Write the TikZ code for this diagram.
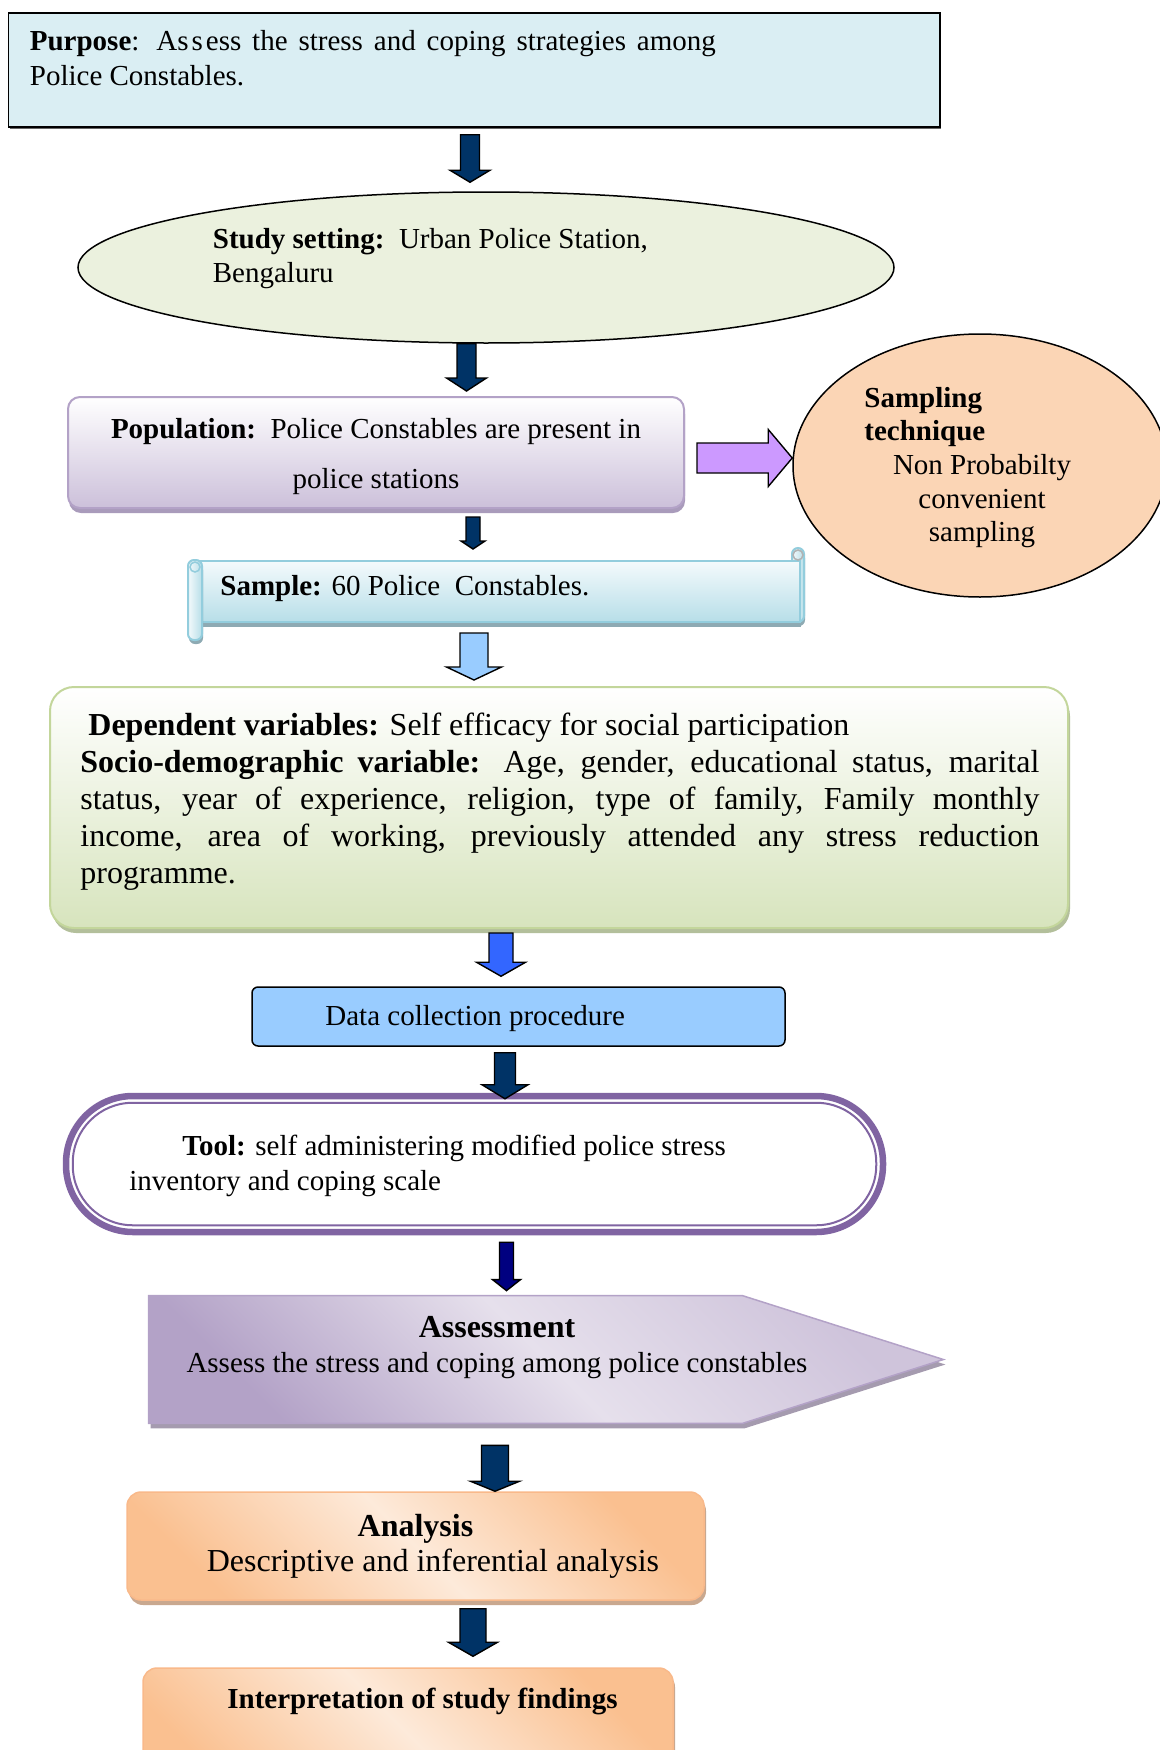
\documentclass[tikz,border=0pt]{standalone}
\usepackage{fontspec}
\setmainfont{Liberation Serif}
\usetikzlibrary{calc,shapes.geometric,shadows}

\definecolor{purposeblue}{HTML}{DAEEF3}
\definecolor{settinggreen}{HTML}{EBF1DE}
\definecolor{popbottom}{HTML}{CCC0DA}
\definecolor{popborder}{HTML}{B3A2C7}
\definecolor{popshadow}{HTML}{A99BBB}
\definecolor{samplingpeach}{HTML}{FBD5B5}
\definecolor{violetarrow}{HTML}{CC99FF}
\definecolor{scrolltop}{HTML}{F4FAFC}
\definecolor{scrollbottom}{HTML}{B7DEE8}
\definecolor{scrollborder}{HTML}{93CDDD}
\definecolor{scrollshadow}{HTML}{8EAAB3}
\definecolor{depbottom}{HTML}{D7E4BD}
\definecolor{depborder}{HTML}{C3D69B}
\definecolor{depshadow}{HTML}{B3BF9B}
\definecolor{datablue}{HTML}{99CCFF}
\definecolor{toolpurple}{HTML}{8064A2}
\definecolor{assesslight}{HTML}{E6E0EC}
\definecolor{assessdark}{HTML}{B3A2C7}
\definecolor{assessshadow}{HTML}{A59BAF}
\definecolor{analight}{HTML}{FDEADA}
\definecolor{anaorange}{HTML}{FAC090}
\definecolor{anaborder}{HTML}{F9B98A}
\definecolor{anashadow}{HTML}{C9A88F}
\definecolor{navyarrow}{HTML}{003366}
\definecolor{deepnavy}{HTML}{000080}
\definecolor{lightarrow}{HTML}{99CCFF}
\definecolor{bluearrow}{HTML}{3366FF}

\tikzset{
  shaftw/.store in=\shaftw, headw/.store in=\headw, headl/.store in=\headl,
  shaftw=5pt, headw=10pt, headl=7pt,
  downarrow/.style={draw=black, line width=0.7pt, fill=#1,
    to path={let \p1=(\tikztostart), \p2=(\tikztotarget) in
      (\x1-\shaftw,\y1) -- (\x1+\shaftw,\y1) -- (\x1+\shaftw,\y2+\headl)
      -- (\x1+\headw,\y2+\headl) -- (\x1,\y2) -- (\x1-\headw,\y2+\headl)
      -- (\x1-\shaftw,\y2+\headl) -- cycle}},
  rightarrow/.style={draw=black, line width=0.7pt, fill=#1,
    to path={let \p1=(\tikztostart), \p2=(\tikztotarget) in
      (\x1,\y1-\shaftw) -- (\x1,\y1+\shaftw) -- (\x2-\headl,\y1+\shaftw)
      -- (\x2-\headl,\y1+\headw) -- (\x2,\y1) -- (\x2-\headl,\y1-\headw)
      -- (\x2-\headl,\y1-\shaftw) -- cycle}},
  txt/.style={inner sep=0pt, font=\fontsize{14.5}{17.5}\selectfont},
  bigtxt/.style={inner sep=0pt, font=\fontsize{16}{18.4}\selectfont},
  purposebox/.style={rectangle, inner sep=0pt, draw=black, line width=0.75pt, fill=purposeblue,
    drop shadow={shadow xshift=0.5pt, shadow yshift=-1pt, fill=black!60, opacity=1}},
  settingoval/.style={ellipse, inner sep=0pt, draw=black, line width=0.75pt, fill=settinggreen},
  samplingoval/.style={ellipse, inner sep=0pt, draw=black, line width=0.75pt, fill=samplingpeach},
  popbox/.style={rectangle, rounded corners=6pt, draw=popborder, line width=1pt,
    top color=white, bottom color=popbottom,
    drop shadow={shadow xshift=0.5pt, shadow yshift=-2.5pt, fill=popshadow, opacity=1}},
  scrollbox/.style={rectangle, inner sep=0pt, draw=scrollborder, line width=1pt,
    top color=scrolltop, bottom color=scrollbottom,
    drop shadow={shadow xshift=0.5pt, shadow yshift=-2.5pt, fill=scrollshadow, opacity=1}},
  scrollroll/.style={draw=scrollborder, line width=1pt, rounded corners=3pt,
    left color=scrolltop, right color=scrollbottom,
    drop shadow={shadow xshift=0.5pt, shadow yshift=-2pt, fill=scrollshadow, opacity=1}},
  depbox/.style={rectangle, inner sep=0pt, rounded corners=12pt, draw=depborder, line width=1pt,
    top color=white, bottom color=depbottom,
    drop shadow={shadow xshift=1pt, shadow yshift=-2.5pt, fill=depshadow, opacity=1}},
  databox/.style={rectangle, inner sep=0pt, rounded corners=3pt, draw=black, line width=0.75pt, fill=datablue},
  toolbox/.style={rectangle, inner sep=0pt, rounded corners=33.5pt, draw=toolpurple, line width=3.25pt, fill=white},
  assessshape/.style={draw=assessdark, line width=0.75pt,
    top color=assessdark!45!assesslight, bottom color=assessdark, middle color=assesslight, shading angle=-45,
    drop shadow={shadow xshift=1pt, shadow yshift=-2.5pt, fill=assessshadow, opacity=1}},
  anabox/.style={rectangle, rounded corners=7pt, draw=anaborder, line width=0.75pt,
    top color=anaorange, bottom color=anaorange, middle color=analight, shading angle=-45,
    drop shadow={shadow xshift=1pt, shadow yshift=-2.5pt, fill=anashadow, opacity=1}},
}

\begin{document}
\begin{tikzpicture}[x=0.5pt,y=-0.5pt]
\useasboundingbox (0,0) rectangle (1160,1750);

% Purpose
\node[purposebox, minimum width=465.7pt, minimum height=57pt] (purpose) at (474.3,70) {};
\node[txt, anchor=north west, align=left] (purposetext) at (29.5,30)
  {\makebox[343pt][s]{\textbf{Purpose}: As\kern1.5pt s\kern1.5pt ess the stress and coping strategies among}\\Police Constables.};

% Study setting
\node[settingoval, minimum width=408pt, minimum height=75.5pt] (setting) at (486,267.5) {};
\node[txt, anchor=north west, align=left, font=\fontsize{14.5}{17}\selectfont] (settingtext) at (212.5,228)
  {\textbf{Study setting:}\ \ Urban Police Station,\\Bengaluru};

% Sampling technique
\node[samplingoval, minimum width=187pt, minimum height=131.5pt] (sampling) at (980,465.5) {};
\node[txt, anchor=north west, align=left, font=\bfseries\fontsize{14.5}{16.5}\selectfont] (samplinghead) at (864,387)
  {Sampling\\technique};
\node[txt, anchor=north, align=center, font=\fontsize{14.5}{16.75}\selectfont] (samplingbody) at (982,454)
  {Non Probabilty\\convenient\\sampling};

% Population
\node[popbox, txt, align=center, font=\fontsize{14.5}{25}\selectfont, minimum width=308pt, minimum height=55.5pt] (population) at (376,452.5)
  {\rule{0pt}{14.5pt}\textbf{Population:}\ \ Police Constables are present in\\police stations};

% Sample scroll
\draw[scrollroll] (792,548) rectangle (804,622);
\node[scrollbox, minimum width=301pt, minimum height=30.5pt] (sample) at (499,591.5) {};
\draw[scrollroll] (188,560) rectangle (202,640);
\draw[scrollborder, line width=0.75pt] (195,567) circle[radius=2.5pt];
\draw[gray!60, line width=0.75pt] (798,555) circle[radius=2.5pt];
\node[txt, anchor=base west] (sampletext) at (220,595) {\textbf{Sample:} 60 Police\ \ Constables.};

% Variables
\node[depbox, minimum width=509pt, minimum height=120.5pt] (depvar) at (559,807.5) {};
\node[bigtxt, anchor=north west, align=left] (depvartext) at (80,713)
  {\hspace*{4pt}\textbf{Dependent variables:} Self efficacy for social participation\\
   \makebox[479.5pt][s]{\textbf{Socio-demographic variable:} Age, gender, educational status, marital}\\
   \makebox[479.5pt][s]{status, year of experience, religion, type of family, Family monthly}\\
   \makebox[479.5pt][s]{income, area of working, previously attended any stress reduction}\\
   programme.};

% Data collection
\node[databox, minimum width=266.5pt, minimum height=29.5pt] (datacoll) at (518.5,1016.5) {};
\node[txt, anchor=base west] (datatext) at (325,1025) {Data collection procedure};

% Tool
\node[toolbox, minimum width=408.5pt, minimum height=68pt] (tool) at (474.5,1164) {};
\draw[toolpurple, line width=1pt, rounded corners=30pt] ([shift={(10,10)}]tool.north west) rectangle ([shift={(-10,-10)}]tool.south east);
\node[txt, anchor=north west, align=left] (tooltext) at (129,1135)
  {\hspace*{26.5pt}\textbf{Tool:} self administering modified police stress\\inventory and coping scale};

% Assessment
\node[rectangle, inner sep=0pt, minimum width=296.5pt, minimum height=63.5pt] (assess) at (445.5,1359.5) {};
\draw[assessshape] (assess.north west) -- (assess.north east) -- ([xshift=100.5pt]assess.east)
  -- (assess.south east) -- (assess.south west) -- cycle;
\node[txt, anchor=north, align=center] (assesstext) at (497,1316)
  {{\fontsize{16}{18}\selectfont\textbf{Assessment}}\\Assess the stress and coping among police constables};

% Analysis
\node[anabox, bigtxt, align=center, font=\fontsize{16}{17.5}\selectfont, minimum width=288.5pt, minimum height=54pt] (analysis) at (415.5,1546)
  {\textbf{Analysis}\\\hspace*{17.5pt}Descriptive and inferential analysis};

% Interpretation
\node[anabox, minimum width=265pt, minimum height=66pt] (interp) at (408,1734) {};
\node[txt, anchor=base] (interptext) at (422.5,1708) {\textbf{Interpretation of study findings}};

% Arrows
\draw[downarrow=navyarrow, shaftw=4.75pt, headw=10pt, headl=6pt] ([shift={(-4.3,7)}]purpose.south) to ([shift={(0,-9)}]setting.north);
\draw[downarrow=navyarrow, shaftw=4.75pt, headw=10pt, headl=6.5pt] ([shift={(-19.5,0)}]setting.south) to ([shift={(0,-5)}]population.north);
\draw[downarrow=navyarrow, shaftw=3.5pt, headw=6pt, headl=4pt] ([shift={(97,8)}]population.south) to ([shift={(0,-11)}]sample.north);
\draw[rightarrow=violetarrow, shaftw=7.5pt, headw=14.25pt, headl=12pt] ([shift={(12,5.5)}]population.east) to (sampling.west);
\draw[downarrow=lightarrow, shaftw=7pt, headw=13.75pt, headl=6.5pt] ([shift={(-25,10)}]sample.south) to ([shift={(0,-6)}]depvar.north);
\draw[downarrow=bluearrow, shaftw=6pt, headw=12.25pt, headl=7pt] ([shift={(-58,4)}]depvar.south) to ([shift={(0,-10)}]datacoll.north);
\draw[downarrow=navyarrow, shaftw=5.25pt, headw=11.5pt, headl=7pt] ([shift={(-13.5,6)}]datacoll.south) to ([shift={(0,6)}]tool.north);
\draw[downarrow=deepnavy, shaftw=3.5pt, headw=7pt, headl=5.5pt] ([shift={(32,7)}]tool.south) to ([shift={(0,-5)}]assess.north);
\draw[downarrow=navyarrow, shaftw=6.75pt, headw=12.25pt, headl=5pt] ([shift={(49.5,22)}]assess.south) to (analysis.north);
\draw[downarrow=navyarrow, shaftw=6.5pt, headw=12.25pt, headl=7pt] ([shift={(57.5,8)}]analysis.south) to ([shift={(0,-11)}]interp.north);

\end{tikzpicture}
\end{document}
